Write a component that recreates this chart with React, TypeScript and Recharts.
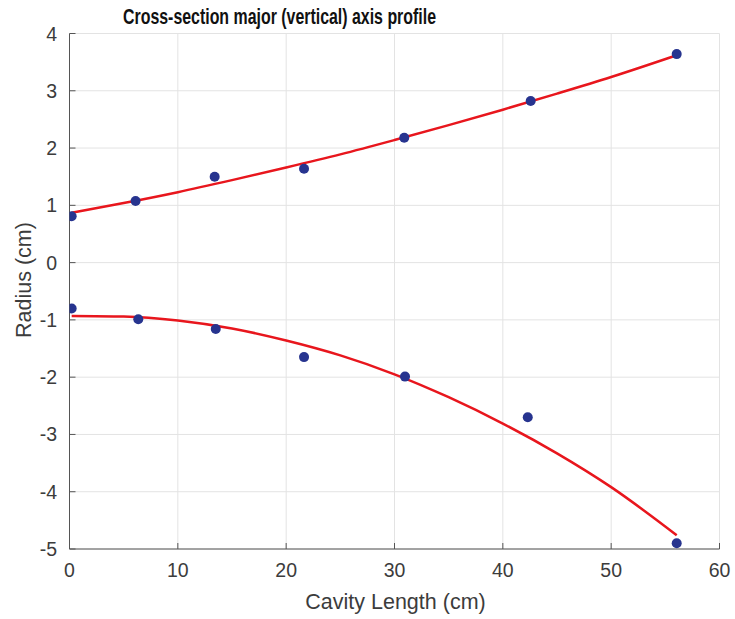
import React from "react";
import {
  ComposedChart,
  Line,
  Scatter,
  XAxis,
  YAxis,
  CartesianGrid,
} from "recharts";

const TITLE = "Cross-section major (vertical) axis profile";
const X_LABEL = "Cavity Length (cm)";
const Y_LABEL = "Radius (cm)";

const xTicks = [0, 10, 20, 30, 40, 50, 60];
const yTicks = [-5, -4, -3, -2, -1, 0, 1, 2, 3, 4];

// measured points
const upperX = [0.2, 6.1, 13.4, 21.65, 30.9, 42.57, 56.05];
const upperY = [0.81, 1.075, 1.5, 1.64, 2.18, 2.82, 3.64];
const lowerX = [0.2, 6.35, 13.5, 21.65, 30.97, 42.3, 56.05];
const lowerY = [-0.8, -0.99, -1.16, -1.65, -1.99, -2.7, -4.9];

// fitted curves
const upperFitX = [0.2, 5, 10, 15, 20, 25, 30, 35, 40, 45, 50, 56.05];
const upperFitY = [0.87, 1.04, 1.23, 1.44, 1.66, 1.89, 2.14, 2.4, 2.67, 2.95, 3.24, 3.62];
const lowerFitX = [0.2, 5, 10, 15, 20, 25, 30, 35, 40, 45, 50, 56.05];
const lowerFitY = [-0.93, -0.94, -1.01, -1.15, -1.36, -1.62, -1.95, -2.35, -2.81, -3.33, -3.92, -4.76];

const zip = (xs: number[], ys: number[]) => xs.map((x, i) => ({ x, y: ys[i] }));

const upperPts = zip(upperX, upperY);
const lowerPts = zip(lowerX, lowerY);
const upperFit = zip(upperFitX, upperFitY);
const lowerFit = zip(lowerFitX, lowerFitY);

const FONT = "'Liberation Sans', Arial, Helvetica, sans-serif";
const AXIS_COLOR = "#555555";
const TEXT_COLOR = "#3c3c3c";
const GRID_COLOR = "#e3e3e3";
const RED = "#e8161d";
const BLUE = "#27348f";

const XTick = (props: any) => {
  const { x, y, payload } = props;
  return (
    <g>
      <line x1={x} x2={x} y1={y} y2={y - 6} stroke={AXIS_COLOR} strokeWidth={1} />
      <text
        x={x}
        y={y + 28}
        textAnchor="middle"
        fontFamily={FONT}
        fontSize={19.5}
        fill={TEXT_COLOR}
      >
        {payload.value}
      </text>
    </g>
  );
};

const YTick = (props: any) => {
  const { x, y, payload } = props;
  return (
    <g>
      <line x1={x} x2={x + 6} y1={y} y2={y} stroke={AXIS_COLOR} strokeWidth={1} />
      <text
        x={x - 12.5}
        y={y + 7}
        textAnchor="end"
        fontFamily={FONT}
        fontSize={19.5}
        fill={TEXT_COLOR}
      >
        {payload.value}
      </text>
    </g>
  );
};

const XLabel = (props: any) => {
  const vb = props.viewBox || {};
  const cx = vb.x + vb.width / 2;
  return (
    <text
      x={cx + 1}
      y={vb.y + 60}
      textAnchor="middle"
      fontFamily={FONT}
      fontSize={21.5}
      fill={TEXT_COLOR}
    >
      {X_LABEL}
    </text>
  );
};

const YLabel = () => {
  return (
    <text
      x={31}
      y={280}
      transform="rotate(-90 31 280)"
      textAnchor="middle"
      fontFamily={FONT}
      fontSize={21.5}
      fill={TEXT_COLOR}
    >
      {Y_LABEL}
    </text>
  );
};

export default function App() {
  return (
    <div style={{ position: "absolute", left: 0, top: 0, width: 735, height: 619, background: "#fff" }}>
      <ComposedChart
        width={735}
        height={619}
        margin={{ top: 33.5, right: 15.5, left: 0, bottom: 40 }}
      >
        <CartesianGrid stroke={GRID_COLOR} strokeWidth={1} />
        <XAxis
          type="number"
          dataKey="x"
          domain={[0, 60]}
          ticks={xTicks}
          interval={0}
          allowDataOverflow
          height={30}
          axisLine={{ stroke: AXIS_COLOR, strokeWidth: 1 }}
          tickLine={false}
          tickSize={0}
          tickMargin={0}
          tick={<XTick />}
          label={<XLabel />}
        />
        <YAxis
          type="number"
          dataKey="y"
          domain={[-5, 4]}
          ticks={yTicks}
          interval={0}
          allowDataOverflow
          width={69.5}
          axisLine={{ stroke: AXIS_COLOR, strokeWidth: 1 }}
          tickLine={false}
          tickSize={0}
          tickMargin={0}
          tick={<YTick />}
          label={<YLabel />}
        />
        <Line
          data={upperFit}
          dataKey="y"
          type="monotone"
          stroke={RED}
          strokeWidth={2.5}
          dot={false}
          activeDot={false}
          isAnimationActive={false}
        />
        <Line
          data={lowerFit}
          dataKey="y"
          type="monotone"
          stroke={RED}
          strokeWidth={2.5}
          dot={false}
          activeDot={false}
          isAnimationActive={false}
        />
        <Scatter
          data={upperPts}
          dataKey="y"
          fill={BLUE}
          shape={(p: any) => <circle cx={p.cx} cy={p.cy} r={5} fill={BLUE} />}
          isAnimationActive={false}
        />
        <Scatter
          data={lowerPts}
          dataKey="y"
          fill={BLUE}
          shape={(p: any) => <circle cx={p.cx} cy={p.cy} r={5} fill={BLUE} />}
          isAnimationActive={false}
        />
      </ComposedChart>
      <svg
        width={735}
        height={40}
        style={{ position: "absolute", left: 0, top: 0, pointerEvents: "none" }}
      >
        <text
          x={279.5}
          y={24}
          textAnchor="middle"
          fontFamily={FONT}
          fontWeight="bold"
          fontSize={22.5}
          textLength={313}
          lengthAdjust="spacingAndGlyphs"
          fill="#111"
        >
          {TITLE}
        </text>
      </svg>
    </div>
  );
}
